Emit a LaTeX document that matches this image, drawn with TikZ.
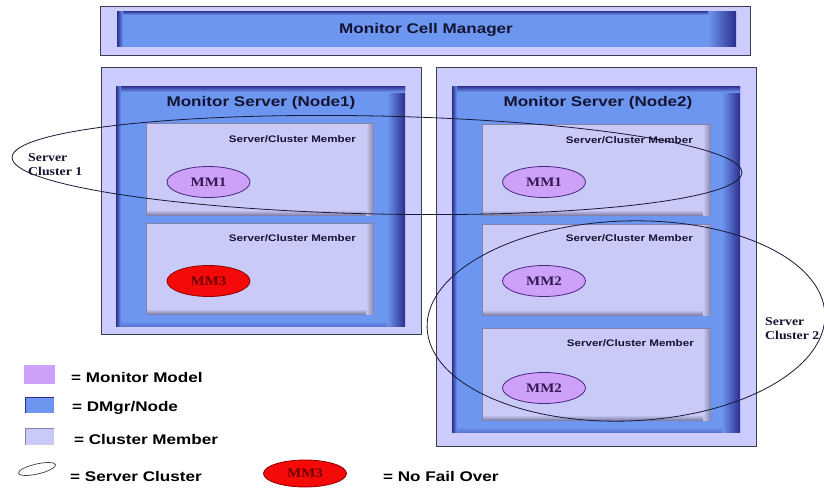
\documentclass[tikz,border=0pt]{standalone}
\usepackage{fontspec}
\setmainfont{Liberation Serif}
\newfontfamily\widesans[FakeStretch=1.22]{Liberation Sans}
\newfontfamily\wideserif[FakeStretch=1.15]{Liberation Serif}
\usetikzlibrary{shapes.geometric}

\definecolor{lavout}{RGB}{204,204,255}
\definecolor{memfill}{RGB}{202,202,248}
\definecolor{memedge}{RGB}{130,130,170}
\definecolor{dmgr}{RGB}{108,150,240}
\definecolor{navyedge}{RGB}{45,45,140}
\definecolor{mmfill}{RGB}{205,160,250}
\definecolor{mmline}{RGB}{70,40,120}
\definecolor{mmtext}{RGB}{50,25,80}
\definecolor{failred}{RGB}{245,10,10}
\definecolor{failline}{RGB}{140,0,0}
\definecolor{failtext}{RGB}{110,0,0}
\definecolor{textnavy}{RGB}{20,20,50}
\definecolor{boxline}{RGB}{60,60,85}
\definecolor{clusterline}{RGB}{25,25,55}

\tikzset{
  outerbox/.style={fill=lavout, draw=boxline, line width=0.9pt},
  titletext/.style={font=\widesans\bfseries\fontsize{14}{16}\selectfont, text=textnavy},
  memlabel/.style={font=\widesans\bfseries\fontsize{9.5}{11}\selectfont, text=textnavy, anchor=east, inner sep=0pt},
  model/.style={ellipse, draw=mmline, fill=mmfill, line width=0.8pt,
    minimum width=83pt, minimum height=31pt, inner sep=0pt,
    font=\wideserif\bfseries\fontsize{13}{15}\selectfont, text=mmtext},
  nofail/.style={model, draw=failline, fill=failred, text=failtext},
  cluster/.style={draw=clusterline, line width=0.8pt},
  clusterlabel/.style={font=\wideserif\bfseries\fontsize{12}{14}\selectfont, text=textnavy,
    align=left, anchor=west, inner sep=0pt},
  legendtext/.style={font=\widesans\bfseries\fontsize{14}{16}\selectfont, text=black, anchor=west, inner sep=0pt},
}

% blue DMgr/node panel with bevelled edges: #1,#2 = top left, #3,#4 = bottom right
\newcommand{\dmgrpanel}[4]{%
  \fill[dmgr] (#1,#2) rectangle (#3,#4);
  \shade[left color=dmgr, right color=navyedge] (#3-18,#2) rectangle (#3,#4);
  \shade[top color=dmgr, bottom color=dmgr!70!navyedge] (#1,#4-5) rectangle (#3-18,#4);
  \shade[top color=navyedge, bottom color=dmgr] (#1,#2) rectangle (#3,#2+6);
  \shade[left color=navyedge, right color=dmgr] (#1,#2) rectangle (#1+5,#4);
}
% cluster member panel with a soft shadow on the right and bottom
\newcommand{\memberpanel}[4]{%
  \fill[memfill] (#1,#2) rectangle (#3,#4);
  \shade[left color=memfill, right color=memedge] (#3-8,#2) rectangle (#3,#4);
  \shade[top color=memfill, bottom color=memedge] (#1,#4-5) rectangle (#3-8,#4);
  \draw[memedge, line width=0.8pt] (#1,#4) -- (#1,#2) -- (#3,#2);
}

\begin{document}
\begin{tikzpicture}[x=1pt, y=-1pt]
\useasboundingbox[fill=white] (0,0) rectangle (824,487);

% ---- cell manager bar ----
\draw[outerbox] (100,6) rectangle (750,55);
\fill[dmgr] (117,12) rectangle (736,47);
\shade[left color=dmgr, right color=navyedge] (708,12) rectangle (736,47);
\shade[top color=navyedge!70!dmgr, bottom color=dmgr] (117,12) rectangle (708,15);
\shade[left color=navyedge, right color=dmgr] (117,12) rectangle (123,47);
\node[titletext] (cellmgr) at (426,30) {Monitor Cell Manager};

% ---- node 1 ----
\draw[outerbox] (101,67) rectangle (421,334);
\dmgrpanel{116}{86}{405}{326}
\node[titletext] (node1) at (261,103) {Monitor Server (Node1)};
\memberpanel{146}{123}{374}{215}
\memberpanel{146}{223}{374}{314}
\node[memlabel] (n1m1) at (356,139) {Server/Cluster Member};
\node[memlabel] (n1m2) at (356,238) {Server/Cluster Member};
\node[model] (n1mm1) at (208.5,182) {MM1};
\node[nofail] (n1mm3) at (208.5,281) {MM3};

% ---- node 2 ----
\draw[outerbox] (436,67) rectangle (756,446);
\dmgrpanel{452}{86}{740}{432}
\node[titletext] (node2) at (598,103) {Monitor Server (Node2)};
\memberpanel{482}{124}{711}{215}
\memberpanel{482}{224}{711}{315}
\memberpanel{482}{328}{711}{420}
\node[memlabel] (n2m1) at (693,140) {Server/Cluster Member};
\node[memlabel] (n2m2) at (693,238) {Server/Cluster Member};
\node[memlabel] (n2m3) at (694,343) {Server/Cluster Member};
\node[model] (n2mm1) at (544,182) {MM1};
\node[model] (n2mm2) at (544,281) {MM2};
\node[model] (n2mm2b) at (544,388) {MM2};

% ---- server clusters ----
\draw[cluster, rotate around={-1.2:(377,165)}] (377,165) ellipse [x radius=365pt, y radius=49pt];
\node[clusterlabel] (cl1) at (28,164.5) {Server\\Cluster 1};
\draw[cluster, rotate around={2:(626,321)}] (626,321) ellipse [x radius=199pt, y radius=100pt];
\node[clusterlabel] (cl2) at (765,328.5) {Server\\Cluster 2};

% ---- legend ----
\fill[mmfill] (24,365) rectangle (55,384);
\node[legendtext] (lgmm) at (71,377) {= Monitor Model};
\fill[dmgr] (25,397) rectangle (54,413);
\draw[navyedge, line width=0.9pt] (25,413) -- (25,397) -- (54,397);
\node[legendtext] (lgdm) at (72,408) {= DMgr/Node};
\fill[memfill] (25,428) rectangle (54,445);
\draw[memedge, line width=0.9pt] (25,445) -- (25,428) -- (54,428);
\node[legendtext] (lgcm) at (74,439) {= Cluster Member};
\draw[draw=boxline, line width=0.7pt, rotate around={13:(37,469)}] (37,469) ellipse [x radius=19pt, y radius=5pt];
\node[legendtext] (lgsc) at (70,476) {= Server Cluster};
\node[nofail, minimum height=27pt] (lgmm3) at (305,473.5) {MM3};
\node[legendtext] (lgnf) at (383,476) {= No Fail Over};
\end{tikzpicture}
\end{document}
